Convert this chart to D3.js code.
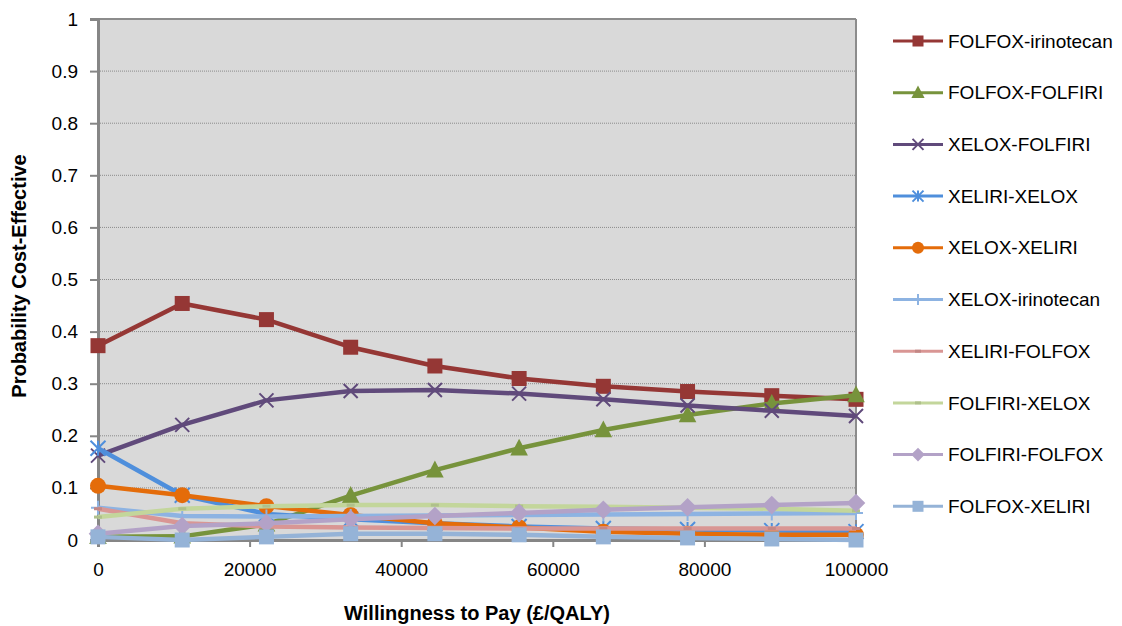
<!DOCTYPE html>
<html><head><meta charset="utf-8">
<script src="https://cdn.jsdelivr.net/npm/d3@7"></script>
<style>
html,body{margin:0;padding:0;background:#fff;}
text{font-family:"Liberation Sans",Arial,sans-serif;fill:#000;}
</style></head>
<body><svg id="chart" width="1122" height="626"></svg>
<script>
const wtp = [0, 11111, 22222, 33333, 44444, 55556, 66667, 77778, 88889, 100000];
const folfoxIrinotecan = [0.373, 0.454, 0.423, 0.370, 0.334, 0.310, 0.295, 0.285, 0.277, 0.270];
const folfoxFolfiri    = [0.006, 0.007, 0.030, 0.085, 0.134, 0.176, 0.211, 0.240, 0.262, 0.278];
const xeloxFolfiri     = [0.162, 0.221, 0.268, 0.286, 0.288, 0.281, 0.270, 0.258, 0.248, 0.238];
const xeliriXelox      = [0.176, 0.086, 0.050, 0.040, 0.032, 0.026, 0.022, 0.020, 0.018, 0.016];
const xeloxXeliri      = [0.104, 0.086, 0.065, 0.048, 0.032, 0.024, 0.016, 0.012, 0.010, 0.010];
const xeloxIrinotecan  = [0.062, 0.046, 0.045, 0.046, 0.047, 0.048, 0.049, 0.050, 0.051, 0.052];
const xeliriFolfox     = [0.060, 0.032, 0.026, 0.024, 0.023, 0.022, 0.022, 0.022, 0.022, 0.022];
const folfiriXelox     = [0.044, 0.060, 0.065, 0.067, 0.067, 0.065, 0.064, 0.062, 0.060, 0.056];
const folfiriFolfox    = [0.012, 0.027, 0.032, 0.040, 0.046, 0.052, 0.058, 0.063, 0.067, 0.071];
const folfoxXeliri     = [0.006, 0.000, 0.006, 0.012, 0.012, 0.010, 0.006, 0.004, 0.002, 0.000];

const seriesNames = ["FOLFOX-irinotecan","FOLFOX-FOLFIRI","XELOX-FOLFIRI","XELIRI-XELOX","XELOX-XELIRI",
  "XELOX-irinotecan","XELIRI-FOLFOX","FOLFIRI-XELOX","FOLFIRI-FOLFOX","FOLFOX-XELIRI"];
const seriesValues = [folfoxIrinotecan, folfoxFolfiri, xeloxFolfiri, xeliriXelox, xeloxXeliri,
  xeloxIrinotecan, xeliriFolfox, folfiriXelox, folfiriFolfox, folfoxXeliri];
const seriesColors = ["#953735","#77933c","#604a7b","#4f8fdc","#e46c0a","#8db3e2","#d99694","#c3d69b","#b3a2c7","#95b3d7"];
const seriesMarkers = ["square","triangle","x","asterisk","circle","plus","dash","dash","diamond","square"];

const xTicks = [0, 20000, 40000, 60000, 80000, 100000];
const yTicks = [0, 0.1, 0.2, 0.3, 0.4, 0.5, 0.6, 0.7, 0.8, 0.9, 1];
const xTitle = "Willingness to Pay (£/QALY)";
const yTitle = "Probability Cost-Effective";

const svg = d3.select("#chart");
const L = 98, R = 856, T = 19, B = 540;
const x = d3.scaleLinear().domain([0, 100000]).range([L, R]);
const y = d3.scaleLinear().domain([0, 1]).range([B, T]);

// plot background
svg.append("rect").attr("x", L).attr("y", T).attr("width", R - L).attr("height", B - T).attr("fill", "#d9d9d9");

// gridlines
svg.append("g").selectAll("line").data(yTicks.filter(d => d > 0 && d < 1)).join("line")
  .attr("x1", L).attr("x2", R).attr("y1", d => y(d)).attr("y2", d => y(d))
  .attr("stroke", "#8a8a8a").attr("stroke-width", 1).attr("stroke-dasharray", "1,1");

// border top/right
svg.append("line").attr("x1", L).attr("x2", R).attr("y1", T).attr("y2", T).attr("stroke", "#8c8c8c").attr("stroke-width", 2);
svg.append("line").attr("x1", R).attr("x2", R).attr("y1", T).attr("y2", B).attr("stroke", "#8c8c8c").attr("stroke-width", 2);

// axes
const yAxis = d3.axisLeft(y).tickValues(yTicks).tickFormat(d3.format("")).tickSize(8).tickPadding(12);
const gy = svg.append("g").attr("transform", `translate(${L},0)`).call(yAxis);
gy.select(".domain").attr("stroke", "#868686").attr("stroke-width", 3);
gy.selectAll(".tick line").attr("stroke", "#868686").attr("stroke-width", 2);
gy.selectAll(".tick text").style("font-size", "19px").attr("fill", "#000");

const xAxis = d3.axisBottom(x).tickValues(xTicks).tickFormat(d3.format("d")).tickSize(7).tickPadding(16);
const gx = svg.append("g").attr("transform", `translate(0,${B})`).call(xAxis);
gx.select(".domain").attr("stroke", "#868686").attr("stroke-width", 3);
gx.selectAll(".tick line").attr("stroke", "#868686").attr("stroke-width", 2);
gx.selectAll(".tick text").style("font-size", "19px").attr("fill", "#000");

// titles
svg.append("text").attr("x", 477).attr("y", 620).attr("text-anchor", "middle")
  .style("font-size", "20px").style("font-weight", "bold").text(xTitle);
svg.append("text").attr("transform", "translate(26,276) rotate(-90)").attr("text-anchor", "middle")
  .style("font-size", "20px").style("font-weight", "bold").text(yTitle);

function drawMarker(g, type, color, s) {
  if (type === "square") {
    g.append("rect").attr("x", -s/2).attr("y", -s/2).attr("width", s).attr("height", s).attr("fill", color);
  } else if (type === "circle") {
    g.append("circle").attr("r", s/2).attr("fill", color);
  } else if (type === "triangle") {
    g.append("path").attr("d", `M0,${-s*0.6}L${s*0.55},${s*0.45}L${-s*0.55},${s*0.45}Z`).attr("fill", color);
  } else if (type === "diamond") {
    g.append("path").attr("d", `M0,${-s*0.62}L${s*0.62},0L0,${s*0.62}L${-s*0.62},0Z`).attr("fill", color);
  } else if (type === "x") {
    const h = s/2;
    g.append("path").attr("d", `M${-h},${-h}L${h},${h}M${h},${-h}L${-h},${h}`).attr("stroke", color).attr("stroke-width", 2).attr("fill", "none");
  } else if (type === "asterisk") {
    const h = s/2;
    g.append("path").attr("d", `M${-h},${-h}L${h},${h}M${h},${-h}L${-h},${h}M0,${-h}L0,${h}`).attr("stroke", color).attr("stroke-width", 2).attr("fill", "none");
  } else if (type === "plus") {
    const h = s/2;
    g.append("path").attr("d", `M${-h},0L${h},0M0,${-h}L0,${h}`).attr("stroke", color).attr("stroke-width", 2).attr("fill", "none");
  } else if (type === "dash") {
    g.append("path").attr("d", `M${-s/2},0L${s/2},0`).attr("stroke", d3.color(color).darker(0.3)).attr("stroke-width", 3).attr("fill", "none");
  }
}

const markerSize = {square: 15, circle: 16, triangle: 16, diamond: 15, x: 14, asterisk: 15, plus: 14, dash: 8};
const line = d3.line().x((d, i) => x(wtp[i])).y(d => y(d));

seriesNames.forEach((name, si) => {
  const g = svg.append("g");
  g.append("path").attr("d", line(seriesValues[si])).attr("fill", "none")
    .attr("stroke", seriesColors[si]).attr("stroke-width", 4.5).attr("stroke-linejoin", "round");
  seriesValues[si].forEach((v, i) => {
    const mg = g.append("g").attr("transform", `translate(${x(wtp[i])},${y(v)})`);
    drawMarker(mg, seriesMarkers[si], seriesColors[si], markerSize[seriesMarkers[si]]);
  });
});

// legend
const leg = svg.append("g");
seriesNames.forEach((name, si) => {
  const ly = 41 + si * 51.7;
  const g = leg.append("g").attr("transform", `translate(0,${ly})`);
  g.append("line").attr("x1", 893).attr("x2", 943).attr("y1", 0).attr("y2", 0)
    .attr("stroke", seriesColors[si]).attr("stroke-width", 3);
  const mg = g.append("g").attr("transform", "translate(918,0)");
  drawMarker(mg, seriesMarkers[si], seriesColors[si], Math.round(markerSize[seriesMarkers[si]] * 0.75));
  g.append("text").attr("x", 948).attr("y", 0).attr("dy", "0.35em").style("font-size", "19px").text(name);
});
</script></body></html>
